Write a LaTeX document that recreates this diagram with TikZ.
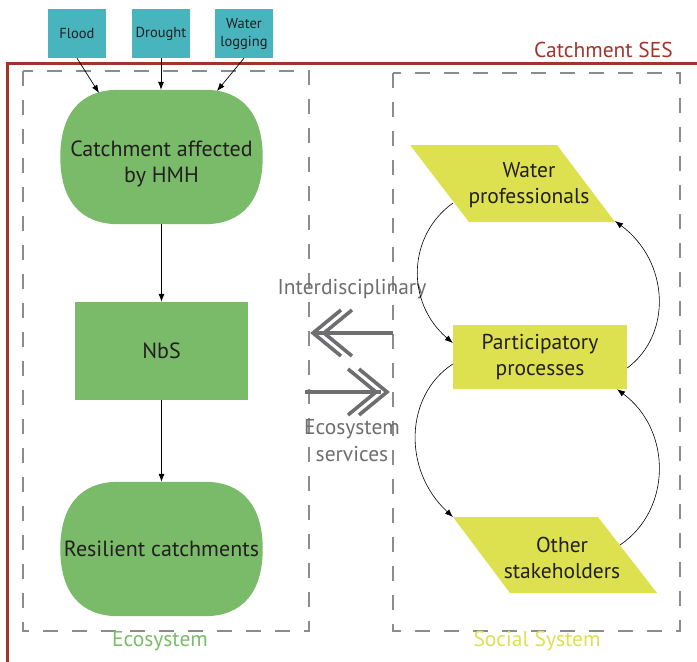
\documentclass[tikz,border=0pt]{standalone}
\usepackage{fontspec}
\setmainfont{PT Sans}
\usetikzlibrary{arrows.meta,calc}
\definecolor{teal1}{HTML}{48B5BE}
\definecolor{green1}{HTML}{7ABB6A}
\definecolor{yel1}{HTML}{DDE04F}
\definecolor{red1}{HTML}{A2342C}
\definecolor{gray1}{HTML}{6E6E70}
\definecolor{dash1}{HTML}{8C8C8C}
\definecolor{txt}{HTML}{231F20}
\newcommand\stadfill[1]{%
  \fill[green1] ($(#1.north west)+(58,0)$) -- ($(#1.north east)+(-58,0)$)
    .. controls +(38,0) and +(0,-43) .. (#1.east)
    .. controls +(0,43) and +(38,0) .. ($(#1.south east)+(-58,0)$)
    -- ($(#1.south west)+(58,0)$)
    .. controls +(-38,0) and +(0,43) .. (#1.west)
    .. controls +(0,-43) and +(-38,0) .. ($(#1.north west)+(58,0)$) -- cycle;}
\begin{document}
\begin{tikzpicture}[x=1pt,y=-1pt,
  hazard/.style={fill=teal1,text=txt,minimum width=58pt,minimum height=49pt,inner sep=1pt,align=center,font=\fontsize{14.5}{18}\selectfont},
  stad/.style={minimum width=202pt,minimum height=134pt,inner sep=0pt},
  ecotext/.style={text=txt,align=center,font=\fontsize{22}{26}\selectfont,inner sep=0pt},
  soctext/.style={text=txt,align=center,font=\fontsize{21.5}{26}\selectfont,inner sep=0pt},
  arr/.style={draw=black,line width=0.7pt,-{Latex[length=8pt,width=6pt]}},
  frame/.style={dash1,line width=1.2pt,dash pattern=on 15pt off 14pt},
  chev/.style={gray1,line width=3.6pt},
  graylab/.style={text=gray1,align=center,font=\fontsize{21.5}{27}\selectfont,inner sep=0pt},
  syslab/.style={font=\fontsize{21.5}{24}\selectfont,inner sep=0pt}
]
\useasboundingbox (0,0) rectangle (697,662);
% outer red frame
\draw[red1,line width=3pt] (697,63) -- (7,63) -- (7,662);
\node[anchor=base east,text=red1,font=\fontsize{21.5}{24}\selectfont,inner sep=0pt] (ses) at (673,57) {Catchment SES};
% dashed subsystems
\draw[frame] (23,71) rectangle (309,631);
\draw[frame] (393,73) rectangle (680,631);
\node[syslab,text=green1] (ecolab) at (160,641) {Ecosystem};
\node[syslab,text=yel1] (soclab) at (537,641) {Social System};
% hazards
\node[hazard] (flood) at (77,33.5) {Flood};
\node[hazard] (drought) at (161,33.5) {Drought};
\node[hazard] (wlog) at (244,33.5) {Water\\logging};
% ecosystem chain
\node[stad] (catch) at (161.5,157) {};
\stadfill{catch}
\node[ecotext] (catchlab) at (161.5,164) {Catchment affected\\by HMH};
\node[fill=green1,minimum width=173pt,minimum height=98pt,ecotext] (nbs) at (161.5,351) {NbS};
\node[stad] (resil) at (161.5,549) {};
\stadfill{resil}
\node[ecotext] (resillab) at (161.5,549) {Resilient catchments};
\coordinate (c1) at (99,93);
\coordinate (c3) at (217,91);
\draw[arr] (flood.south) -- (c1);
\draw[arr] (drought.south) -- (drought.south |- catch.north);
\draw[arr] (wlog.south) -- (c3);
\draw[arr] (catch.south -| nbs.north) -- (nbs.north);
\draw[arr] (nbs.south) -- (nbs.south |- resil.north);
% middle double arrows
\node[graylab] (inter) at (352,289) {Interdisciplinary};
\node[graylab] (ess) at (352,441) {Ecosystem\\services};
\coordinate (l0) at (393,333);
\coordinate (l1) at (313,333);
\draw[chev] (l0) -- (l1);
\draw[chev,line join=miter] ($(l1)+(28,-23)$) -- (l1) -- ($(l1)+(28,23)$);
\draw[chev,line join=miter] ($(l1)+(39,-23)$) -- ($(l1)+(11,0)$) -- ($(l1)+(39,23)$);
\coordinate (r0) at (305,392);
\coordinate (r1) at (387,392);
\draw[chev] (r0) -- ($(r1)+(-6,0)$);
\draw[chev,line join=miter] ($(r1)+(-28,-23)$) -- (r1) -- ($(r1)+(-28,23)$);
\draw[chev,line join=miter] ($(r1)+(-39,-23)$) -- ($(r1)+(-11,0)$) -- ($(r1)+(-39,23)$);
% social system
\fill[yel1] (410,145) -- (557,145) -- (615,222) -- (469,222) -- cycle;
\node[soctext] (wp) at (529,185) {Water\\professionals};
\node[fill=yel1,minimum width=174pt,minimum height=64pt,soctext] (pp) at (540,357) {Participatory\\processes};
\fill[yel1] (453,517) -- (598,517) -- (657,593) -- (510,593) -- cycle;
\node[soctext] (os) at (562,558) {Other\\stakeholders};
\coordinate (wpL) at (453,203);
\coordinate (wpR) at (615,221);
\coordinate (osL) at (453,517);
\coordinate (osR) at (620,545);
\draw[arr,line width=0.6pt] (wpL) .. controls (408,235) and (405,302) .. (pp.west |- 0,343);
\draw[arr,line width=0.6pt] (pp.east |- 0,368) .. controls (672,335) and (670,262) .. (wpR);
\draw[arr,line width=0.6pt] (pp.west |- 0,364) .. controls (405,395) and (402,470) .. (osL);
\draw[arr,line width=0.6pt] (osR) .. controls (672,510) and (672,430) .. (pp.south -| 617,0);
\end{tikzpicture}
\end{document}
